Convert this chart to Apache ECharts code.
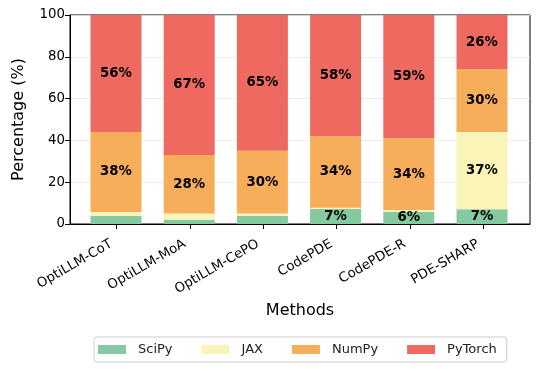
<!DOCTYPE html>
<html><head><meta charset="utf-8">
<script src="https://cdn.jsdelivr.net/npm/echarts@6/dist/echarts.min.js"></script>
<style>html,body{margin:0;padding:0;background:#fff}#c{width:540px;height:371px}</style>
</head><body><div id="c"></div>
<script>
const categories = ['OptiLLM-CoT','OptiLLM-MoA','OptiLLM-CePO','CodePDE','CodePDE-R','PDE-SHARP'];
const scipy   = [3.8, 2.0, 4.0, 7.2, 5.9, 7.0];
const jax     = [2.0, 3.0, 1.0, 0.6, 0.8, 37.0];
const numpy   = [38.2, 28.0, 30.0, 34.2, 34.3, 30.0];
const pytorch = [56.0, 67.0, 65.0, 58.0, 59.0, 26.0];
const seriesNames = ['SciPy','JAX','NumPy','PyTorch'];
const colors = ['#84C9A0','#FAF4B8','#F6AE5B','#EE6A61'];
const font = 'DejaVu Sans';
const dataSets = [scipy, jax, numpy, pytorch];
const tickIdx = categories.map((c,i)=>i);
const chart = echarts.init(document.getElementById('c'), null, {renderer:'canvas'});
chart.setOption({
  animation:false,
  textStyle:{fontFamily:font},
  grid:[
    {left:70, right:10, top:15, bottom:147, show:true, borderColor:'#000', borderWidth:1, backgroundColor:'transparent'},
    {left:79.4, right:21.4, top:15, bottom:147, show:false}
  ],
  xAxis:[
    {type:'value', gridIndex:0, min:-0.635, max:5.635,
      name:'Methods', nameLocation:'middle', nameGap:78,
      nameTextStyle:{fontFamily:font, fontSize:16, color:'#000'},
      axisLine:{show:true, onZero:false, lineStyle:{color:'#000'}},
      axisTick:{show:true, customValues:tickIdx, length:5, lineStyle:{color:'#000'}},
      axisLabel:{customValues:tickIdx, rotate:30, fontSize:13.3, color:'#000', fontFamily:font, margin:16,
        padding:[0,6,0,0], formatter:v=>categories[Math.round(v)]},
      splitLine:{show:false}},
    {type:'category', gridIndex:1, data:categories, show:false}
  ],
  yAxis:[
    {type:'value', gridIndex:0, min:0, max:100, interval:20,
      name:'Percentage (%)', nameLocation:'middle', nameGap:43,
      nameTextStyle:{fontFamily:font, fontSize:16, color:'#000'},
      axisLine:{show:true, onZero:false, lineStyle:{color:'#000'}},
      axisTick:{show:true, length:5, lineStyle:{color:'#000'}},
      axisLabel:{fontSize:13.3, color:'#000', fontFamily:font, margin:5},
      splitLine:{show:true, lineStyle:{color:'#e8e8e8', width:0.8}}},
    {type:'value', gridIndex:1, min:0, max:100, show:false}
  ],
  legend:{bottom:9, left:94, itemWidth:28, itemHeight:9, itemGap:29,
    borderColor:'#cccccc', borderWidth:1, borderRadius:3, padding:[6,10,6,4],
    textStyle:{fontFamily:font, fontSize:13, color:'#222', padding:[0,0,0,7]},
    data:seriesNames.map(n=>({name:n, icon:'rect'}))},
  series: dataSets.map((arr,si)=>({
    name:seriesNames[si], type:'bar', stack:'total', barWidth:51,
    xAxisIndex:1, yAxisIndex:1,
    itemStyle:{color:colors[si]},
    label:{show:true, position:'inside', color:'#000', fontWeight:'bold', fontSize:13.3, fontFamily:font,
      formatter:p=>p.value > 5 ? Math.round(p.value)+'%' : ''},
    data:arr
  }))
});
</script></body></html>
